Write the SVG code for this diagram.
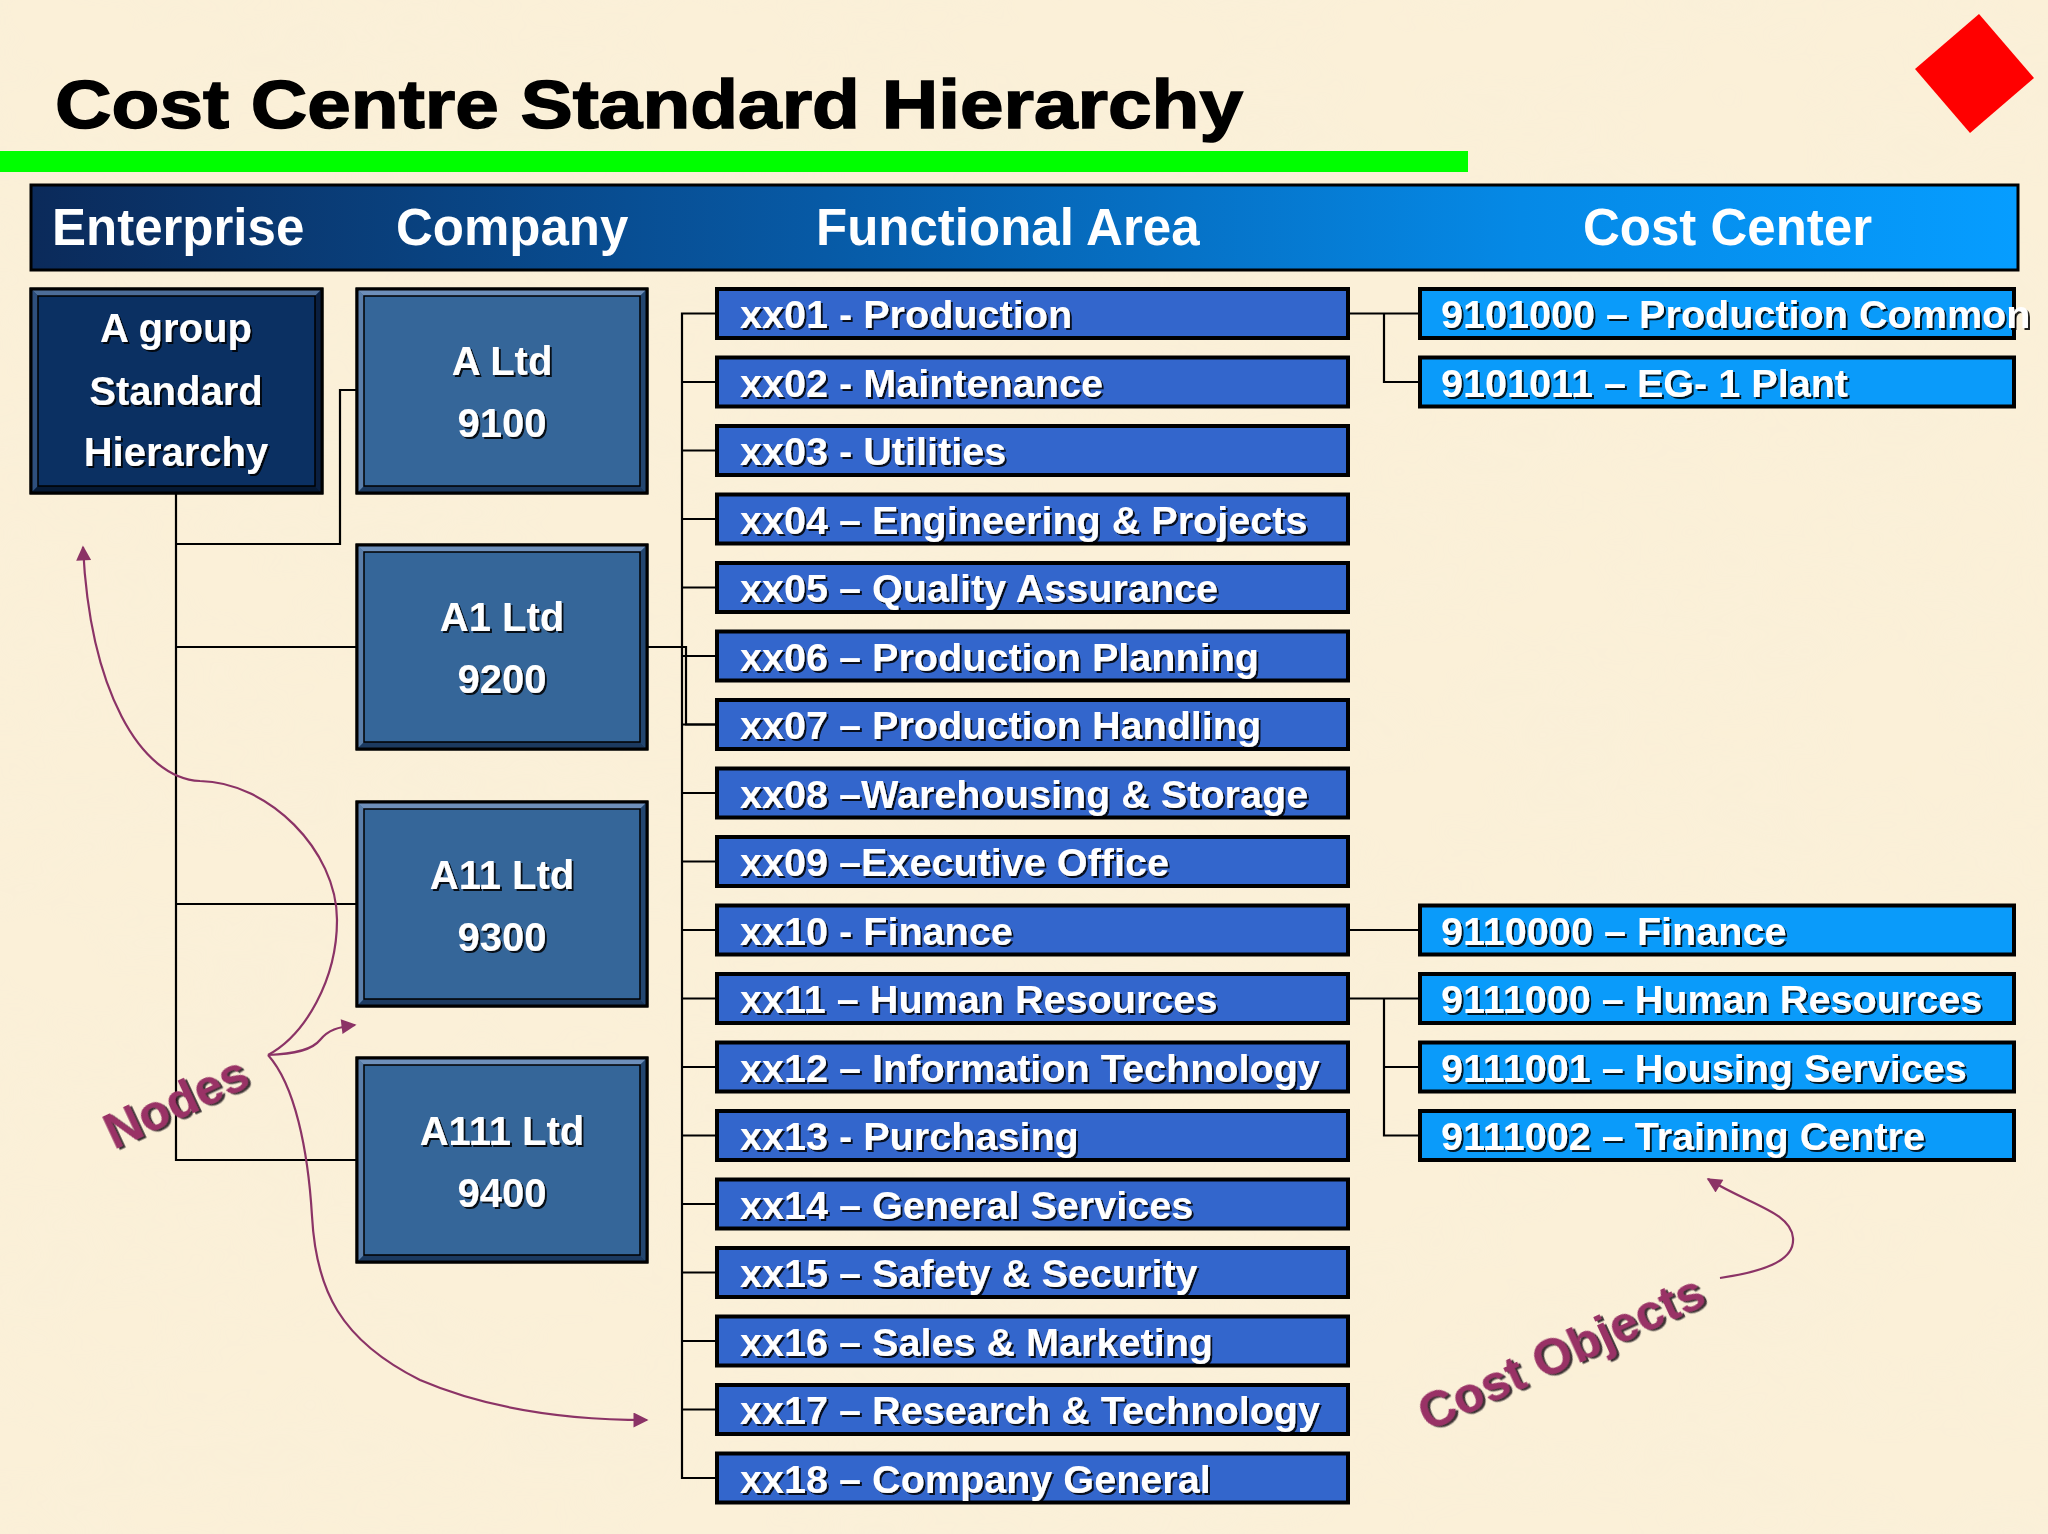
<svg xmlns="http://www.w3.org/2000/svg" xmlns:xlink="http://www.w3.org/1999/xlink" width="2048" height="1534" viewBox="0 0 2048 1534">
<style>
text{font-family:"Liberation Sans",Arial,sans-serif;font-weight:bold}
.w{fill:#fff;filter:url(#ts)}
.hd{font-size:51px;fill:#fff}
.nd{font-size:40px;text-anchor:middle}
.fa{font-size:39.6px}
.fbox{fill:#3366cc;stroke:#000;stroke-width:4}
.cbox{fill:#0a9bfa;stroke:#000;stroke-width:4}
.ln{fill:none;stroke:#000;stroke-width:2.2}
.an{fill:none;stroke:#8b3366;stroke-width:2.2}
.lab{font-size:50px;fill:#993366;filter:url(#ls)}
</style>
<defs>
<linearGradient id="hg" x1="0" y1="0" x2="1" y2="0">
<stop offset="0" stop-color="#0b2a5a"/>
<stop offset="0.4" stop-color="#075aa6"/>
<stop offset="0.75" stop-color="#0589e6"/>
<stop offset="1" stop-color="#069dff"/>
</linearGradient>
<filter id="ts" x="-5%" y="-20%" width="110%" height="150%">
<feDropShadow dx="2" dy="2" stdDeviation="0.6" flood-color="#000" flood-opacity="0.85"/>
</filter>
<filter id="ls" x="-5%" y="-20%" width="110%" height="150%">
<feDropShadow dx="2" dy="2.5" stdDeviation="0.5" flood-color="#2a1a20" flood-opacity="0.9"/>
</filter>
<filter id="paper" x="0" y="0" width="100%" height="100%">
<feTurbulence type="fractalNoise" baseFrequency="0.006 0.012" numOctaves="3" seed="4"/>
<feColorMatrix type="matrix" values="0 0 0 0 0.93  0 0 0 0 0.86  0 0 0 0 0.70  0 0 0 1.2 -0.45"/>
</filter>
<marker id="ah" viewBox="0 0 10 10" refX="9" refY="5" markerWidth="18" markerHeight="15" markerUnits="userSpaceOnUse" orient="auto">
<path d="M0,0 L10,5 L0,10 z" fill="#8b3366"/>
</marker>
<g id="ebev">
<rect x="0" y="0" width="291" height="204" fill="#0b3062" stroke="#000" stroke-width="3"/>
<polygon points="0,0 291,0 284,7 7,7" fill="#4d6d98"/>
<polygon points="0,0 7,7 7,197 0,204" fill="#2e4f7d"/>
<polygon points="291,0 291,204 284,197 284,7" fill="#0a1f40"/>
<polygon points="0,204 7,197 284,197 291,204" fill="#061933"/>
<rect x="0" y="0" width="291" height="204" fill="none" stroke="#000" stroke-width="3"/>
<rect x="7" y="7" width="277" height="190" fill="none" stroke="#000" stroke-width="1.5"/>
</g>
<g id="cbev">
<rect x="0" y="0" width="290" height="204" fill="#356699" stroke="#000" stroke-width="3"/>
<polygon points="0,0 290,0 283,7 7,7" fill="#6e8fba"/>
<polygon points="0,0 7,7 7,197 0,204" fill="#5a7eaa"/>
<polygon points="290,0 290,204 283,197 283,7" fill="#234670"/>
<polygon points="0,204 7,197 283,197 290,204" fill="#1c3a60"/>
<rect x="0" y="0" width="290" height="204" fill="none" stroke="#000" stroke-width="3"/>
<rect x="7" y="7" width="276" height="190" fill="none" stroke="#000" stroke-width="1.5"/>
</g>
</defs>

<rect x="0" y="0" width="2048" height="1534" fill="#fbf0d8"/>
<rect x="0" y="0" width="2048" height="1534" filter="url(#paper)" opacity="0.5"/>

<g id="title">
<text x="55" y="128" font-size="69" fill="#000" stroke="#000" stroke-width="1.5" textLength="1188" lengthAdjust="spacingAndGlyphs">Cost Centre Standard Hierarchy</text>
<rect x="0" y="151" width="1468" height="21" fill="#00ff00"/>
<polygon points="1979,14 2034,78 1970,133 1915,69" fill="#ff0000"/>
</g>

<g id="header">
<rect x="31" y="185" width="1987" height="85" fill="url(#hg)" stroke="#000" stroke-width="3"/>
<text class="hd" x="52" y="245">Enterprise</text>
<text class="hd" x="396" y="245">Company</text>
<text class="hd" x="816" y="245">Functional Area</text>
<text class="hd" x="1583" y="245">Cost Center</text>
</g>

<g id="connectors">
<path class="ln" d="M176,493 V1160 H357"/>
<path class="ln" d="M176,544 H340 V390 H357"/>
<path class="ln" d="M176,647 H357"/>
<path class="ln" d="M176,904 H357"/>
<path class="ln" d="M647,647 H686 V724.5 H716"/>
<path class="ln" d="M716,313.5 H682 V1478 H716"/>
<path class="ln" d="M682,382 H716 M682,450.5 H716 M682,519 H716 M682,587.5 H716 M682,656 H716 M682,724.5 H716 M682,793 H716 M682,861.5 H716 M682,930 H716 M682,998.5 H716 M682,1067 H716 M682,1135.5 H716 M682,1204 H716 M682,1272.5 H716 M682,1341 H716 M682,1409.5 H716"/>
<path class="ln" d="M1350,313.5 H1418 M1384,313.5 V382 H1418"/>
<path class="ln" d="M1350,930 H1418"/>
<path class="ln" d="M1350,998.5 H1418 M1384,998.5 V1135.5 H1418 M1384,1067 H1418"/>
</g>

<g id="node-enterprise">
<use xlink:href="#ebev" x="31" y="289"/>
<text class="nd w" x="176" y="342">A group</text>
<text class="nd w" x="176" y="405">Standard</text>
<text class="nd w" x="176" y="466">Hierarchy</text>
</g>

<g id="node-altd">
<use xlink:href="#cbev" x="357" y="289"/>
<text class="nd w" x="502" y="375">A Ltd</text>
<text class="nd w" x="502" y="437">9100</text>
</g>
<g id="node-a1ltd">
<use xlink:href="#cbev" x="357" y="545"/>
<text class="nd w" x="502" y="631">A1 Ltd</text>
<text class="nd w" x="502" y="693">9200</text>
</g>
<g id="node-a11ltd">
<use xlink:href="#cbev" x="357" y="802"/>
<text class="nd w" x="502" y="889">A11 Ltd</text>
<text class="nd w" x="502" y="951">9300</text>
</g>
<g id="node-a111ltd">
<use xlink:href="#cbev" x="357" y="1058"/>
<text class="nd w" x="502" y="1145">A111 Ltd</text>
<text class="nd w" x="502" y="1207">9400</text>
</g>

<g id="fa01"><rect class="fbox" x="717" y="289" width="631" height="49"/><text class="fa w" x="740" y="328">xx01 - Production</text></g>
<g id="fa02"><rect class="fbox" x="717" y="357.5" width="631" height="49"/><text class="fa w" x="740" y="396.5">xx02 - Maintenance</text></g>
<g id="fa03"><rect class="fbox" x="717" y="426" width="631" height="49"/><text class="fa w" x="740" y="465">xx03 - Utilities</text></g>
<g id="fa04"><rect class="fbox" x="717" y="494.5" width="631" height="49"/><text class="fa w" x="740" y="533.5">xx04 – Engineering &amp; Projects</text></g>
<g id="fa05"><rect class="fbox" x="717" y="563" width="631" height="49"/><text class="fa w" x="740" y="602">xx05 – Quality Assurance</text></g>
<g id="fa06"><rect class="fbox" x="717" y="631.5" width="631" height="49"/><text class="fa w" x="740" y="670.5">xx06 – Production Planning</text></g>
<g id="fa07"><rect class="fbox" x="717" y="700" width="631" height="49"/><text class="fa w" x="740" y="739">xx07 – Production Handling</text></g>
<g id="fa08"><rect class="fbox" x="717" y="768.5" width="631" height="49"/><text class="fa w" x="740" y="807.5">xx08 –Warehousing &amp; Storage</text></g>
<g id="fa09"><rect class="fbox" x="717" y="837" width="631" height="49"/><text class="fa w" x="740" y="876">xx09 –Executive Office</text></g>
<g id="fa10"><rect class="fbox" x="717" y="905.5" width="631" height="49"/><text class="fa w" x="740" y="944.5">xx10 - Finance</text></g>
<g id="fa11"><rect class="fbox" x="717" y="974" width="631" height="49"/><text class="fa w" x="740" y="1013">xx11 – Human Resources</text></g>
<g id="fa12"><rect class="fbox" x="717" y="1042.5" width="631" height="49"/><text class="fa w" x="740" y="1081.5">xx12 – Information Technology</text></g>
<g id="fa13"><rect class="fbox" x="717" y="1111" width="631" height="49"/><text class="fa w" x="740" y="1150">xx13 - Purchasing</text></g>
<g id="fa14"><rect class="fbox" x="717" y="1179.5" width="631" height="49"/><text class="fa w" x="740" y="1218.5">xx14 – General Services</text></g>
<g id="fa15"><rect class="fbox" x="717" y="1248" width="631" height="49"/><text class="fa w" x="740" y="1287">xx15 – Safety &amp; Security</text></g>
<g id="fa16"><rect class="fbox" x="717" y="1316.5" width="631" height="49"/><text class="fa w" x="740" y="1355.5">xx16 – Sales &amp; Marketing</text></g>
<g id="fa17"><rect class="fbox" x="717" y="1385" width="631" height="49"/><text class="fa w" x="740" y="1424">xx17 – Research &amp; Technology</text></g>
<g id="fa18"><rect class="fbox" x="717" y="1453.5" width="631" height="49"/><text class="fa w" x="740" y="1492.5">xx18 – Company General</text></g>

<g id="cc9101000"><rect class="cbox" x="1420" y="289" width="594" height="49"/><text class="fa w" x="1441" y="328">9101000 – Production Common</text></g>
<g id="cc9101011"><rect class="cbox" x="1420" y="357.5" width="594" height="49"/><text class="fa w" x="1441" y="396.5">9101011 – EG- 1 Plant</text></g>
<g id="cc9110000"><rect class="cbox" x="1420" y="905.5" width="594" height="49"/><text class="fa w" x="1441" y="944.5">9110000 – Finance</text></g>
<g id="cc9111000"><rect class="cbox" x="1420" y="974" width="594" height="49"/><text class="fa w" x="1441" y="1013">9111000 – Human Resources</text></g>
<g id="cc9111001"><rect class="cbox" x="1420" y="1042.5" width="594" height="49"/><text class="fa w" x="1441" y="1081.5">9111001 – Housing Services</text></g>
<g id="cc9111002"><rect class="cbox" x="1420" y="1111" width="594" height="49"/><text class="fa w" x="1441" y="1150">9111002 – Training Centre</text></g>

<g id="annotations">
<path class="an" d="M268,1055 C305,1035 337,980 337,920 C337,850 268,782 200,781 C140,778 90,690 83,547" marker-end="url(#ah)"/>
<path class="an" d="M268,1055 C295,1054 312,1050 320,1040 C328,1030 338,1027 355,1025" marker-end="url(#ah)"/>
<path class="an" d="M268,1055 C295,1085 308,1150 312,1216 C316,1290 340,1340 420,1380 C490,1410 570,1420 647,1420" marker-end="url(#ah)"/>
<path class="an" d="M1720,1278 C1760,1272 1795,1262 1793,1238 C1791,1212 1750,1205 1708,1179" marker-end="url(#ah)"/>
<text class="lab" transform="translate(114,1150) rotate(-25)">Nodes</text>
<text class="lab" transform="translate(1428,1432) rotate(-24.5)">Cost Objects</text>
</g>
</svg>
